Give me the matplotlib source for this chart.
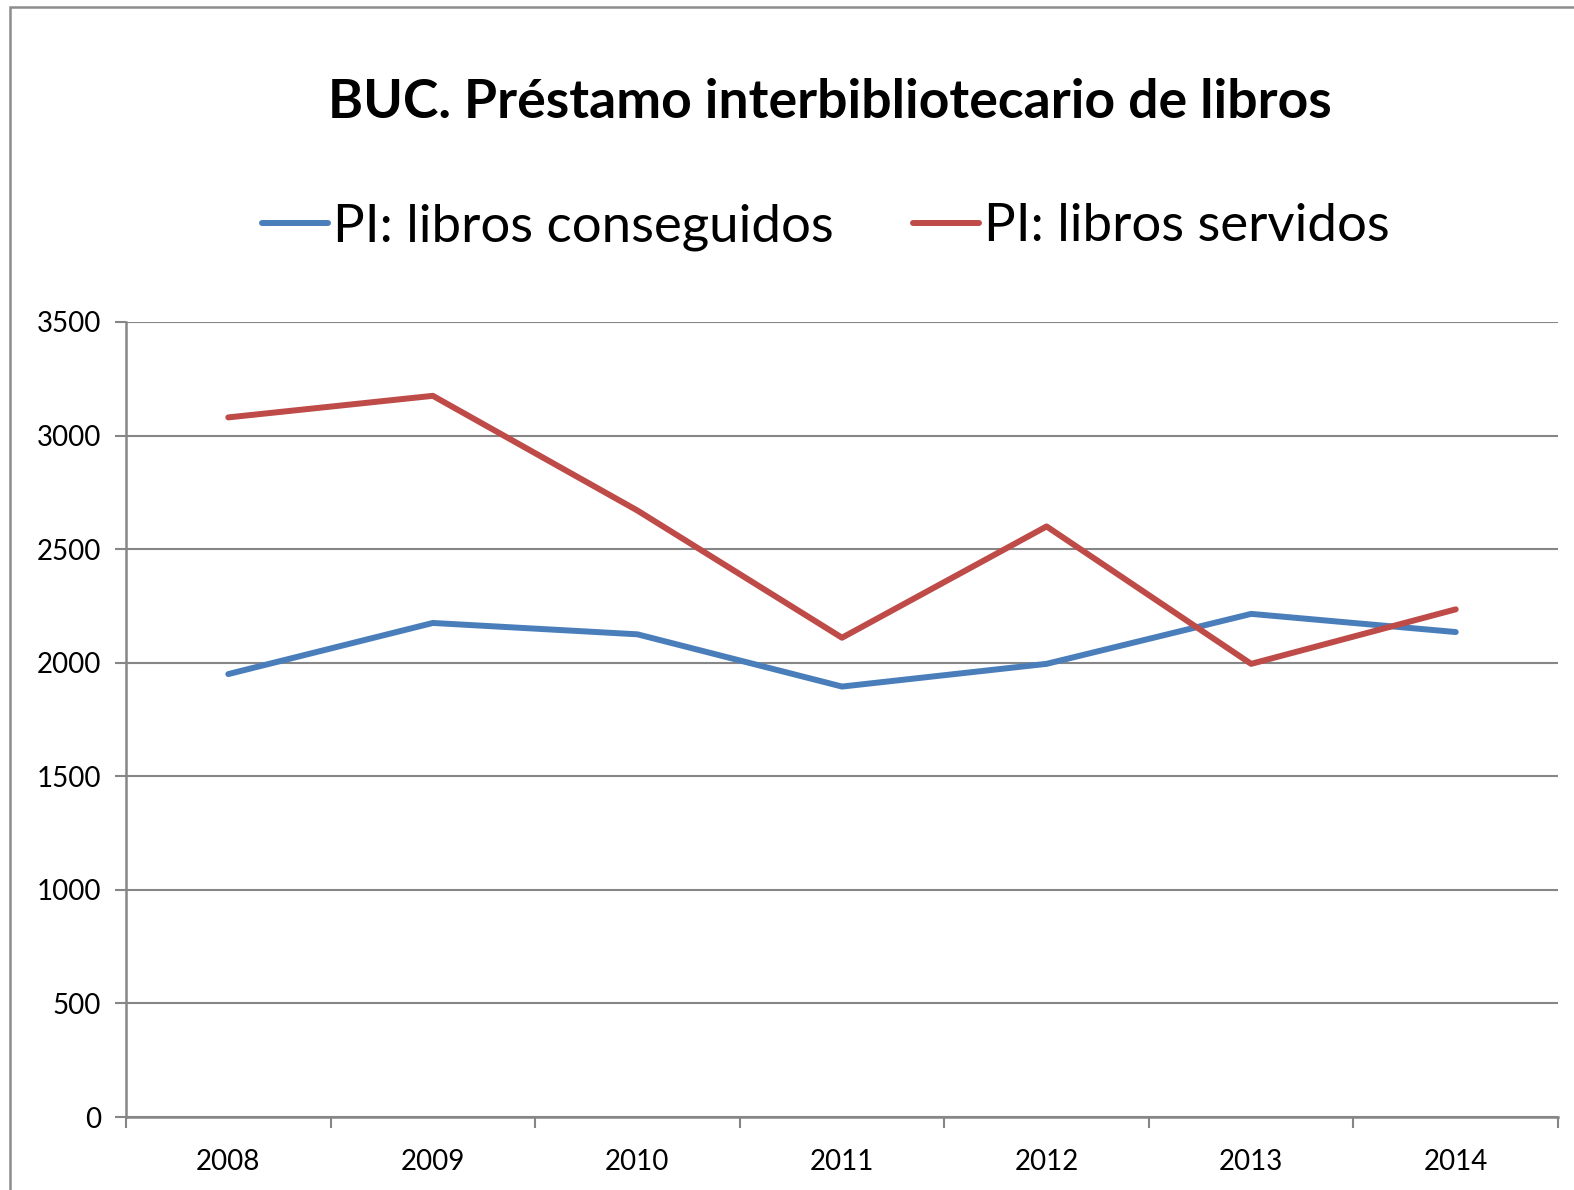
import matplotlib.pyplot as plt
from matplotlib.patches import Rectangle
import numpy as np

# data
years = ['2008', '2009', '2010', '2011', '2012', '2013', '2014']
conseguidos = [1950, 2175, 2125, 1895, 1995, 2215, 2135]
servidos = [3080, 3175, 2670, 2110, 2600, 1995, 2235]
yticks = [0, 500, 1000, 1500, 2000, 2500, 3000, 3500]

plt.rcParams['font.family'] = ['Lato', 'DejaVu Sans']

fig = plt.figure(figsize=(15.74, 11.9), dpi=100)
# outer chart frame (partly cut off on the right and bottom)
fig.patches.append(Rectangle((10 / 1574, -0.1), 1.2, 1.1 - 7 / 1190, transform=fig.transFigure,
                             fill=False, edgecolor='#8c8c8c', linewidth=1.8))

ax = fig.add_axes([126 / 1574, 1 - 1117 / 1190, (1558 - 126) / 1574, (1117 - 322) / 1190])
x = np.arange(len(years))
ax.plot(x, conseguidos, color='#4a7ebb', linewidth=4.3, solid_capstyle='round',
        label='PI: libros conseguidos')
ax.plot(x, servidos, color='#be4b48', linewidth=4.3, solid_capstyle='round',
        label='PI: libros servidos')

ax.set_xlim(-0.5, len(years) - 0.5)
ax.set_ylim(0, 3500)
ax.set_yticks(yticks)
ax.set_xticks(x)
ax.set_xticklabels(years)
ax.set_xticks(np.arange(-0.5, len(years)), minor=True)
ax.tick_params(axis='x', which='major', length=0, pad=23, labelsize=20)
ax.tick_params(axis='x', which='minor', length=8, width=1.5, color='#868686')
ax.tick_params(axis='y', length=8, width=1.5, color='#868686', labelsize=20, pad=10)
ax.grid(axis='y', color='#868686', linewidth=1.5)
ax.set_axisbelow(True)
for s in ['top', 'right']:
    ax.spines[s].set_visible(False)
for s in ['left', 'bottom']:
    ax.spines[s].set_color('#868686')
    ax.spines[s].set_linewidth(1.8)

fig.text(830 / 1574, 1 - 102 / 1190, 'BUC. Préstamo interbibliotecario de libros',
         ha='center', va='center', fontsize=38.5, fontweight='bold')
fig.legend(loc='center', bbox_to_anchor=(826 / 1574, 1 - 227 / 1190), ncol=2, frameon=False,
           fontsize=38, handlelength=1.25, handletextpad=0.1, columnspacing=1.5)

fig.savefig('out.png', dpi=100)
